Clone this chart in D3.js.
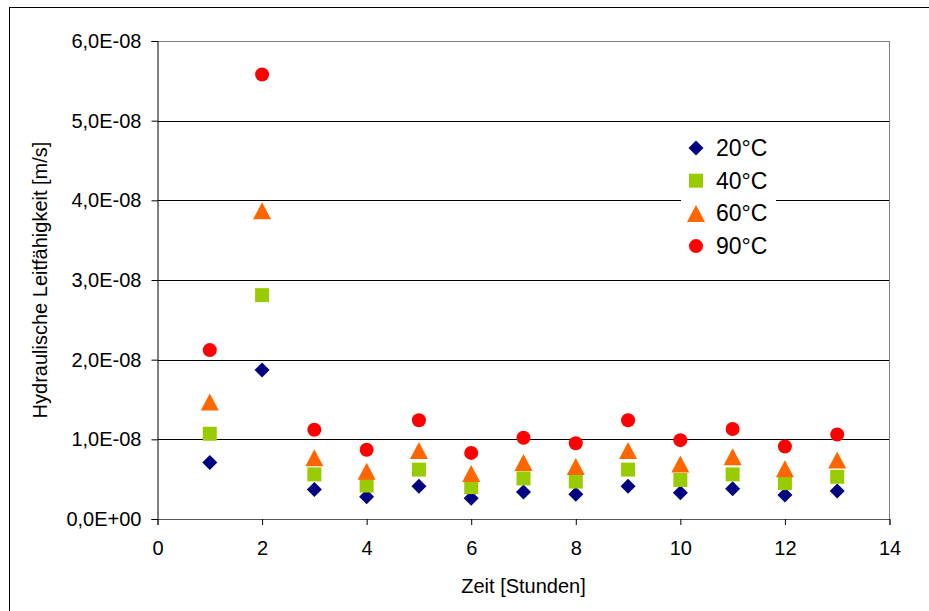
<!DOCTYPE html>
<html>
<head>
<meta charset="utf-8">
<script src="https://cdn.jsdelivr.net/npm/d3@7"></script>
<style>
  body { margin: 0; background: #fff; }
  text { font-family: "Liberation Sans", Arial, sans-serif; fill: #000; }
</style>
</head>
<body>
<div id="chart"></div>
<script>
// data (hydraulic conductivity in m/s)
var hours = [1, 2, 3, 4, 5, 6, 7, 8, 9, 10, 11, 12, 13];
var t20 = [7.1e-9, 1.87e-8, 3.7e-9, 2.8e-9, 4.1e-9, 2.6e-9, 3.4e-9, 3.1e-9, 4.1e-9, 3.3e-9, 3.8e-9, 3.0e-9, 3.5e-9];
var t40 = [1.07e-8, 2.81e-8, 5.6e-9, 4.2e-9, 6.2e-9, 4.0e-9, 5.1e-9, 4.7e-9, 6.2e-9, 4.9e-9, 5.6e-9, 4.5e-9, 5.3e-9];
var t60 = [1.47e-8, 3.87e-8, 7.7e-9, 6.0e-9, 8.6e-9, 5.7e-9, 7.1e-9, 6.6e-9, 8.6e-9, 6.9e-9, 7.8e-9, 6.3e-9, 7.4e-9];
var t90 = [2.12e-8, 5.58e-8, 1.12e-8, 8.7e-9, 1.24e-8, 8.3e-9, 1.02e-8, 9.5e-9, 1.24e-8, 9.9e-9, 1.13e-8, 9.1e-9, 1.06e-8];
var seriesNames = ["20°C", "40°C", "60°C", "90°C"];
var xTicks = [0, 2, 4, 6, 8, 10, 12, 14];
var yTicks = [0, 1e-8, 2e-8, 3e-8, 4e-8, 5e-8, 6e-8];

var W = 929, H = 611;
var margin = {top: 41, right: 39.5, bottom: 92, left: 157.5};
var width = W - margin.left - margin.right,
    height = H - margin.top - margin.bottom;

var svg = d3.select("#chart").append("svg")
    .attr("width", W)
    .attr("height", H);

// outer chart frame (only left and top edges fall inside the picture)
svg.append("rect")
    .attr("x", 9.5).attr("y", 7.5)
    .attr("width", 1000).attr("height", 1000)
    .attr("fill", "none").attr("stroke", "#000").attr("stroke-width", 1);

var g = svg.append("g")
    .attr("transform", "translate(" + margin.left + "," + margin.top + ")");

var x = d3.scaleLinear().domain([0, 14]).range([0, width]);
var y = d3.scaleLinear().domain([0, 6e-8]).range([height, 0]);

function fmtY(v) {
  if (v === 0) return "0,0E+00";
  var e = Math.floor(Math.log10(v) + 1e-9);
  var m = v / Math.pow(10, e);
  return m.toFixed(1).replace(".", ",") + "E-" + String(-e).padStart(2, "0");
}

// gridlines
g.append("g")
  .selectAll("line")
  .data(yTicks.slice(1))
  .enter().append("line")
    .attr("x1", 0).attr("x2", width)
    .attr("y1", function(d) { return Math.round(y(d)) + 0.5; })
    .attr("y2", function(d) { return Math.round(y(d)) + 0.5; })
    .attr("stroke", function(d) { return d === 6e-8 ? "#808080" : "#000"; });

// plot area right border
g.append("line")
    .attr("x1", width).attr("x2", width)
    .attr("y1", 0).attr("y2", height)
    .attr("stroke", "#808080");

// axes
var xAxis = g.append("g")
    .attr("transform", "translate(0," + height + ")")
    .call(d3.axisBottom(x).tickValues(xTicks).tickSize(6).tickPadding(16));
var yAxis = g.append("g")
    .call(d3.axisLeft(y).tickValues(yTicks).tickSize(6).tickPadding(10).tickFormat(fmtY));

[xAxis, yAxis].forEach(function(a) {
  a.selectAll("path, line").attr("stroke", "#000");
  a.selectAll("text").style("font-size", "20px").style("font-family", "'Liberation Sans', Arial, sans-serif");
});
xAxis.select(".domain").attr("stroke", "#555");

// axis titles
svg.append("text")
    .attr("x", margin.left + width / 2)
    .attr("y", 593)
    .attr("text-anchor", "middle")
    .style("font-size", "20px")
    .text("Zeit [Stunden]");
svg.append("text")
    .attr("transform", "translate(47," + (margin.top + height / 2) + ") rotate(-90)")
    .attr("text-anchor", "middle")
    .style("font-size", "20px")
    .text("Hydraulische Leitfähigkeit [m/s]");

// marker shapes
var shapes = {
  diamond: "M0,-7.5L7.5,0L0,7.5L-7.5,0Z",
  square: "M-7,-7H7V7H-7Z",
  triangle: "M0,-8.5L9,8.5L-9,8.5Z",
  circle: "M7,0A7,7 0 1,1 -7,0A7,7 0 1,1 7,0Z"
};
var series = [
  {name: seriesNames[0], values: t20, shape: shapes.diamond, color: "#000080"},
  {name: seriesNames[1], values: t40, shape: shapes.square, color: "#99CC00"},
  {name: seriesNames[2], values: t60, shape: shapes.triangle, color: "#FF6600"},
  {name: seriesNames[3], values: t90, shape: shapes.circle, color: "#FF0000"}
];

series.forEach(function(s) {
  g.append("g")
    .selectAll("path")
    .data(s.values)
    .enter().append("path")
      .attr("d", s.shape)
      .attr("fill", s.color)
      .attr("transform", function(d, i) {
        return "translate(" + x(hours[i]) + "," + y(d) + ")";
      });
});

// legend
var legend = svg.append("g");
legend.append("rect")
    .attr("x", 681).attr("y", 127)
    .attr("width", 95).attr("height", 142)
    .attr("fill", "#fff");
var li = legend.selectAll("g.item")
    .data(series)
    .enter().append("g")
    .attr("class", "item")
    .attr("transform", function(d, i) { return "translate(696," + (148 + i * 32.7) + ")"; });
li.append("path")
    .attr("d", function(d) { return d.shape; })
    .attr("fill", function(d) { return d.color; });
li.append("text")
    .attr("x", 20)
    .attr("y", 8)
    .style("font-size", "23px")
    .text(function(d) { return d.name; });
</script>
</body>
</html>
